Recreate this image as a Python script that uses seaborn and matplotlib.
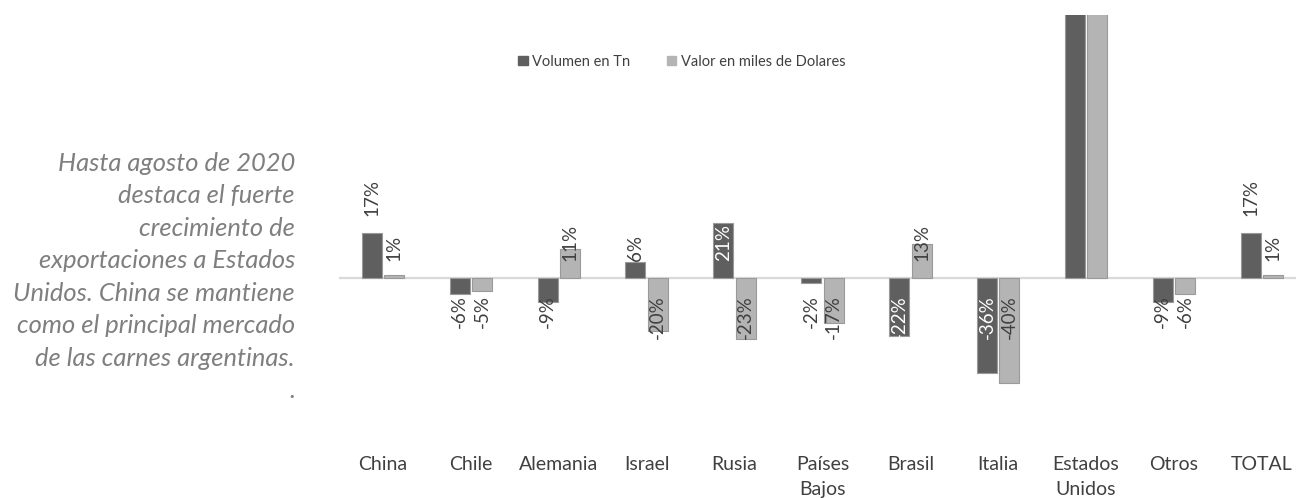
import pandas as pd
import matplotlib.pyplot as plt
import seaborn as sns

# Data (variation in %, 2020 vs 2019)
paises = ['China', 'Chile', 'Alemania', 'Israel', 'Rusia', 'Países\nBajos',
          'Brasil', 'Italia', 'Estados\nUnidos', 'Otros', 'TOTAL']
volumen = [17, -6, -9, 6, 21, -2, -22, -36, 260, -9, 17]
valor = [1, -5, 11, -20, -23, -17, 13, -40, 245, -6, 1]
series = ['Volumen en Tn', 'Valor en miles de Dolares']

# labels of the volume series that sit above the bar instead of near the axis
lifted = ['China', 'TOTAL']

df = pd.DataFrame({
    'Pais': paises * 2,
    'Variacion': volumen + valor,
    'Serie': [series[0]] * len(paises) + [series[1]] * len(paises),
})

sns.set_style('white')
plt.rcParams['font.family'] = ['Lato', 'DejaVu Sans']

dark = '#5f5f5f'
light = '#b4b4b4'
txt = '#404040'

fig = plt.figure(figsize=(12.96, 4.98), dpi=100)
ax = fig.add_axes([0.2616, 0.1245, 0.746, 0.8455])

sns.barplot(data=df, x='Pais', y='Variacion', hue='Serie', hue_order=series,
            palette=[dark, light], width=0.51, gap=0.11, legend=False,
            linewidth=0.8, edgecolor='#9a9a9a', ax=ax)

ax.set_xlim(-0.5, 10.5)
ax.set_ylim(-60, 100)
ax.axhline(0, color='#d9d9d9', lw=1.6, zorder=0.5)

for s in ax.spines.values():
    s.set_visible(False)
ax.set_yticks([])
ax.set_xlabel('')
ax.set_ylabel('')
ax.tick_params(axis='x', length=0, pad=14.3, labelsize=14, labelcolor=txt)
for lab in ax.get_xticklabels():
    lab.set_linespacing(1.6)

# value labels, rotated as in the original
off = 6.5
for k, cont in enumerate(ax.containers):
    vals = volumen if k == 0 else valor
    for i, bar in enumerate(cont):
        v = vals[i]
        if v > ax.get_ylim()[1]:
            continue
        x = bar.get_x() + bar.get_width() / 2
        if v >= 0:
            y = v + off if (k == 0 and paises[i] in lifted) else off
            va = 'bottom'
        else:
            y = -off
            va = 'top'
        color = 'white' if (k == 0 and abs(v) >= 20) else txt
        ax.text(x, y, f'{v}%', rotation=90, ha='center', va=va,
                fontsize=13.5, color=color)

# legend
handles = [plt.Rectangle((0, 0), 1, 1, color=c) for c in (dark, light)]
fig.legend(handles, series, loc='center', bbox_to_anchor=(0.526, 0.876),
           ncol=2, frameon=False, handlelength=0.65, handleheight=0.65,
           handletextpad=0.3, columnspacing=2.5, prop={'size': 10.5},
           labelcolor=txt)

# side comment
fig.text(0.2276, 0.695,
         'Hasta agosto de 2020\ndestaca el fuerte\ncrecimiento de\n'
         'exportaciones a Estados\nUnidos. China se mantiene\n'
         'como el principal mercado\nde las carnes argentinas.\n.',
         ha='right', va='top', fontsize=18.4, style='italic',
         color='#7f7f7f', linespacing=1.5)

plt.savefig('out.png', dpi=100)
